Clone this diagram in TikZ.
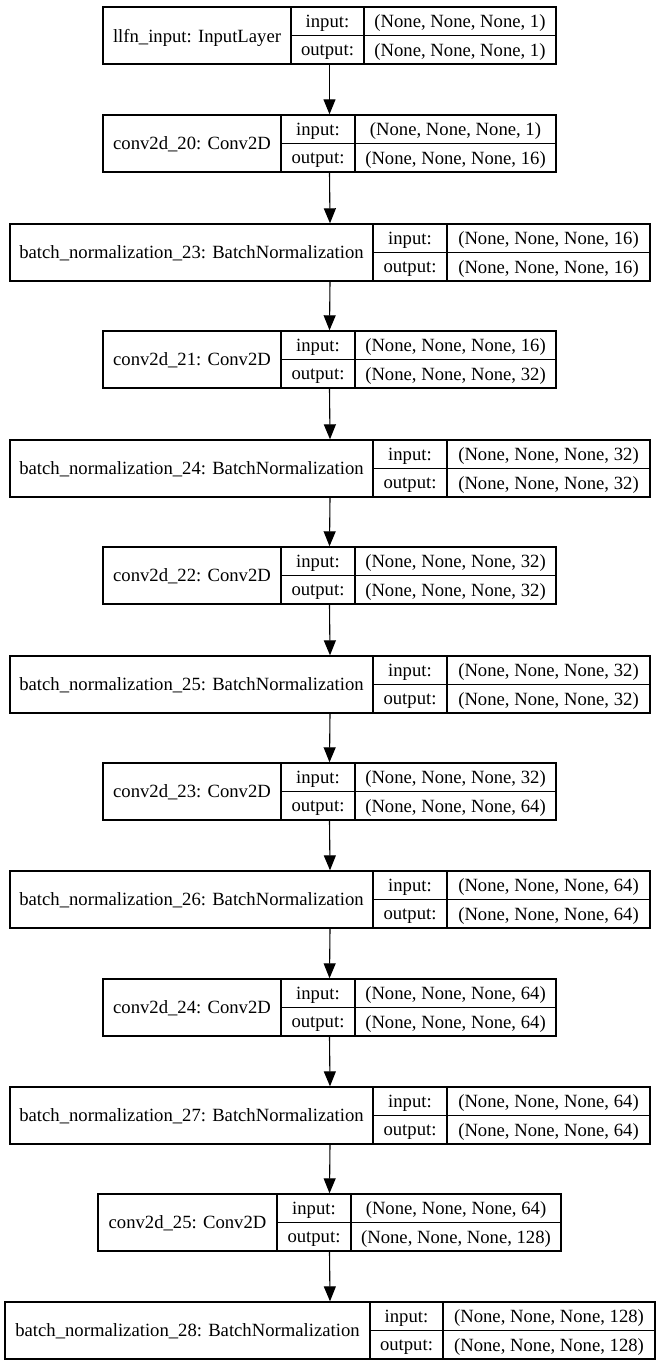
\documentclass[tikz,border=0pt]{standalone}
\usepackage{fontspec}
\setmainfont{Liberation Serif}
\usetikzlibrary{arrows.meta}
\newcommand\cellfont{\fontsize{18.67}{22}\selectfont}
\tikzset{
  cell/.style={draw, line width=1.1pt, inner sep=0pt, font=\cellfont, text depth=0pt},
  rec/.style={inner sep=0pt},
  arr/.style={line width=1.1pt, -{Triangle[length=15pt,width=12pt]}, shorten >=0.5pt},
}
% #1 name, #2 top y, #3 x0, #4 x1, #5 x2, #6 x3, #7 label, #8 in, #9 out
\newcommand\layerrec[9]{%
  \node[rec, minimum width={(#6-#3)*1pt}, minimum height=57pt] (#1) at ({(#3+#6)/2},{#2+28.5}) {};
  \node[cell, minimum width={(#4-#3)*1pt}, minimum height=57pt] (#1-l) at ({(#3+#4)/2},{#2+28.5}) {#7};
  \node[cell, minimum width={(#5-#4)*1pt}, minimum height=28.5pt] (#1-ik) at ({(#4+#5)/2},{#2+14.25}) {input:};
  \node[cell, minimum width={(#5-#4)*1pt}, minimum height=28.5pt] (#1-ok) at ({(#4+#5)/2},{#2+42.75}) {output:};
  \node[cell, minimum width={(#6-#5)*1pt}, minimum height=28.5pt] (#1-iv) at ({(#5+#6)/2},{#2+14.25}) {#8};
  \node[cell, minimum width={(#6-#5)*1pt}, minimum height=28.5pt] (#1-ov) at ({(#5+#6)/2},{#2+42.75}) {#9};
}
\begin{document}
\begin{tikzpicture}[x=1pt,y=-1pt]
\useasboundingbox (0,0) rectangle (660,1367);
\layerrec{b1}{7}{103}{291}{364}{556}{llfn\_input: InputLayer}{(None, None, None, 1)}{(None, None, None, 1)}
\layerrec{b2}{115}{103}{281}{355}{556}{conv2d\_20: Conv2D}{(None, None, None, 1)}{(None, None, None, 16)}
\layerrec{b3}{224}{10}{373}{447}{650}{batch\_normalization\_23: BatchNormalization}{(None, None, None, 16)}{(None, None, None, 16)}
\layerrec{b4}{331}{103}{281}{355}{556}{conv2d\_21: Conv2D}{(None, None, None, 16)}{(None, None, None, 32)}
\layerrec{b5}{440}{10}{373}{447}{650}{batch\_normalization\_24: BatchNormalization}{(None, None, None, 32)}{(None, None, None, 32)}
\layerrec{b6}{547}{103}{281}{355}{556}{conv2d\_22: Conv2D}{(None, None, None, 32)}{(None, None, None, 32)}
\layerrec{b7}{656}{10}{373}{447}{650}{batch\_normalization\_25: BatchNormalization}{(None, None, None, 32)}{(None, None, None, 32)}
\layerrec{b8}{763}{103}{281}{355}{556}{conv2d\_23: Conv2D}{(None, None, None, 32)}{(None, None, None, 64)}
\layerrec{b9}{871}{10}{373}{447}{650}{batch\_normalization\_26: BatchNormalization}{(None, None, None, 64)}{(None, None, None, 64)}
\layerrec{b10}{979}{103}{281}{355}{556}{conv2d\_24: Conv2D}{(None, None, None, 64)}{(None, None, None, 64)}
\layerrec{b11}{1087}{10}{373}{447}{650}{batch\_normalization\_27: BatchNormalization}{(None, None, None, 64)}{(None, None, None, 64)}
\layerrec{b12}{1194}{98}{277}{351}{561}{conv2d\_25: Conv2D}{(None, None, None, 64)}{(None, None, None, 128)}
\layerrec{b13}{1302}{5}{370}{443}{655}{batch\_normalization\_28: BatchNormalization}{(None, None, None, 128)}{(None, None, None, 128)}
\foreach \a/\b in {b1/b2,b2/b3,b3/b4,b4/b5,b5/b6,b6/b7,b7/b8,b8/b9,b9/b10,b10/b11,b11/b12,b12/b13}
  \draw[arr] (\a.south) -- (\b.north);
\end{tikzpicture}
\end{document}
